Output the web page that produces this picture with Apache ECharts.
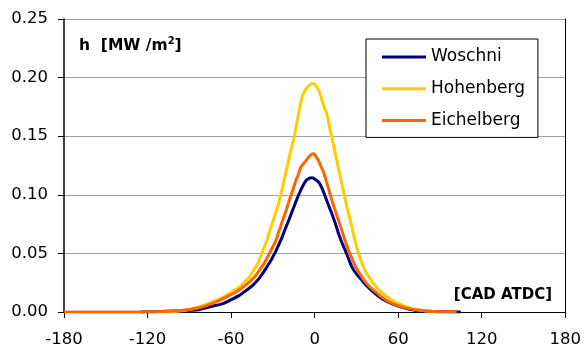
<!DOCTYPE html>
<html>
<head>
<meta charset="utf-8">
<script src="https://cdn.jsdelivr.net/npm/echarts@6/dist/echarts.min.js"></script>
<style>
html,body{margin:0;padding:0;background:#fff;}
#chart{width:584px;height:349px;}
</style>
</head>
<body>
<div id="chart"></div>
<script>
// ---- data (crank angle [deg ATDC] vs heat transfer coefficient [MW/m2]) ----
const xTicks = [-180, -120, -60, 0, 60, 120, 180];
const yTicks = [0.00, 0.05, 0.10, 0.15, 0.20, 0.25];
const seriesNames = ['Woschni', 'Hohenberg', 'Eichelberg'];

const woschniAngle = [-125,-110,-95,-83,-75,-66,-60,-54,-49,-44.5,-40,-37.4,-34,-31.4,-28,-25.4,-23,-20.6,-18,-15.9,-13.5,-11.1,-8.5,-6.3,-4,-2,0,3,5.5,7.8,10,12.4,15,17.2,19.5,22,24.5,26.8,30,34,38,43.5,49,55.4,63,72,85,105];
const woschniH = [0,0.0005,0.001,0.002,0.0045,0.0072,0.0105,0.0142,0.0185,0.0227,0.0285,0.0327,0.039,0.044,0.0515,0.0583,0.065,0.0724,0.080,0.0866,0.094,0.101,0.1075,0.112,0.114,0.1145,0.1135,0.1107,0.105,0.098,0.091,0.0838,0.075,0.0668,0.0595,0.0526,0.045,0.0383,0.0325,0.027,0.0215,0.0157,0.011,0.0072,0.004,0.0015,0.0004,0];

const hohenbergAngle = [-110,-95,-83,-76,-70.7,-65,-61.2,-57,-54,-50,-46.9,-44,-41,-38.5,-36.1,-33.5,-31.4,-29,-26.6,-25,-23,-20.5,-18.2,-16.5,-14.7,-13,-11,-9,-7,-5,-3,-1.6,0,1.5,3,5,7,8.8,10.5,12.4,14,16,18,19.6,21.5,23.2,25,26.8,29,31.6,34.5,37.5,40.5,43.5,47,50.7,55,60.3,67,74.6,88];
const hohenbergH = [0,0.001,0.0043,0.0075,0.010,0.013,0.0157,0.019,0.0213,0.026,0.0298,0.035,0.0412,0.048,0.0554,0.064,0.0724,0.081,0.0894,0.097,0.1065,0.12,0.132,0.141,0.149,0.16,0.172,0.1835,0.1885,0.192,0.194,0.195,0.1945,0.192,0.189,0.182,0.174,0.169,0.159,0.149,0.140,0.129,0.118,0.109,0.099,0.0894,0.081,0.0724,0.061,0.0497,0.040,0.0327,0.0275,0.0227,0.018,0.0142,0.0105,0.0072,0.004,0.002,0];

const eichelbergAngle = [-180,-130,-110,-95,-82.7,-75,-68.3,-62,-56.4,-51,-46.9,-43,-39.7,-36.5,-33.8,-31,-27.8,-25.5,-23,-20.5,-18.3,-16,-13.5,-11.5,-9.9,-8,-6.3,-4,-1.6,0,2,4.5,6.8,8.5,10.4,12,14,16.5,18.8,21,23.5,26.5,29.6,32.5,35.6,39.5,44,48.5,53.6,60,68,76,84.5,102];
const eichelbergH = [0,0,0.0005,0.0015,0.0037,0.0065,0.010,0.0135,0.017,0.0215,0.0256,0.030,0.0355,0.041,0.047,0.0535,0.061,0.0695,0.078,0.0865,0.095,0.103,0.112,0.118,0.1235,0.1265,0.129,0.1325,0.135,0.1345,0.1307,0.1245,0.118,0.111,0.1037,0.097,0.0894,0.0805,0.0724,0.064,0.0554,0.0465,0.0383,0.0325,0.027,0.0215,0.017,0.0125,0.0085,0.0055,0.0029,0.0013,0.0005,0];

const colors = ['#000080', '#FFCC00', '#FF6600'];

function zip(a, b) { return a.map((v, i) => [v, b[i]]); }

const FONT = 'DejaVu Sans';
const chart = echarts.init(document.getElementById('chart'), null, {renderer: 'canvas'});

const option = {
  animation: false,
  backgroundColor: '#fff',
  grid: {left: 64, right: 18, top: 19, bottom: 37, containLabel: false},
  title: [
    {
      text: '{b|h  [MW /m}{s|2}{b|]}',
      left: 74, top: 31,
      textStyle: {
        rich: {
          b: {fontFamily: FONT, fontWeight: 'bold', fontSize: 15.5, color: '#000', lineHeight: 20},
          s: {fontFamily: FONT, fontWeight: 'bold', fontSize: 10, color: '#000', verticalAlign: 'top', lineHeight: 12}
        }
      }
    },
    {
      text: '[CAD ATDC]',
      right: 27, top: 283,
      textStyle: {fontFamily: FONT, fontWeight: 'bold', fontSize: 15, color: '#000'}
    }
  ],
  legend: {
    orient: 'vertical',
    left: 366, top: 39,
    padding: [9, 13, 8, 16],
    itemWidth: 44, itemHeight: 3,
    itemGap: 13.7,
    icon: 'rect',
    borderColor: '#000', borderWidth: 1,
    backgroundColor: '#fff',
    textStyle: {fontFamily: FONT, fontSize: 17, color: '#000', lineHeight: 18},
    data: seriesNames
  },
  xAxis: {
    type: 'value',
    min: xTicks[0], max: xTicks[xTicks.length - 1], interval: 60,
    axisLine: {onZero: false, lineStyle: {color: '#000', width: 1}},
    axisTick: {show: true, inside: false, length: 6, lineStyle: {color: '#000'}},
    splitLine: {show: false},
    axisLabel: {fontFamily: FONT, fontSize: 16.5, color: '#000', margin: 19,
      formatter: v => String(v)}
  },
  yAxis: [
    {
      type: 'value', position: 'left',
      min: yTicks[0], max: yTicks[yTicks.length - 1], interval: 0.05,
      axisLine: {show: true, onZero: false, lineStyle: {color: '#000', width: 1.5}},
      axisTick: {show: true, inside: false, length: 6, lineStyle: {color: '#000'}},
      splitLine: {show: true, lineStyle: {color: '#a0a0a0', width: 1}},
      axisLabel: {fontFamily: FONT, fontSize: 16.5, color: '#000', margin: 16,
        formatter: v => v.toFixed(2)}
    },
    {
      type: 'value', position: 'right',
      min: yTicks[0], max: yTicks[yTicks.length - 1], interval: 0.05,
      axisLine: {show: true, onZero: false, lineStyle: {color: '#000', width: 1}},
      axisTick: {show: false}, axisLabel: {show: false}, splitLine: {show: false}
    }
  ],
  series: [
    {name: seriesNames[0], type: 'line', data: zip(woschniAngle, woschniH)},
    {name: seriesNames[1], type: 'line', data: zip(hohenbergAngle, hohenbergH)},
    {name: seriesNames[2], type: 'line', data: zip(eichelbergAngle, eichelbergH)}
  ].map((s, i) => Object.assign(s, {
    showSymbol: false, symbol: 'none', smooth: 0.25,
    color: colors[i],
    lineStyle: {color: colors[i], width: 3},
    itemStyle: {color: colors[i]},
    z: 2 + i
  }))
};
chart.setOption(option);
</script>
</body>
</html>
